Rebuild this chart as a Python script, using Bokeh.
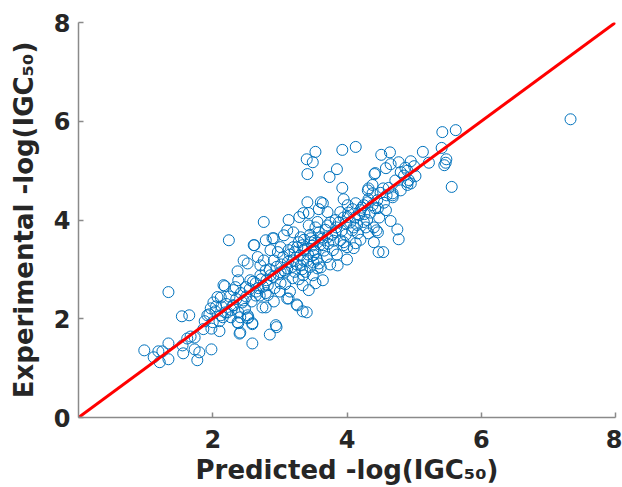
from bokeh.plotting import figure
from bokeh.models import FixedTicker, ColumnDataSource
from bokeh.embed import file_html
from bokeh.resources import INLINE

predicted = [
    0.98, 1.12, 1.19, 1.25, 1.21, 1.34, 1.34, 1.34, 1.55, 1.56, 1.54, 1.65, 1.62, 1.67, 1.73, 1.73,
    1.80, 1.77, 1.98, 1.86, 1.98, 2.10, 1.95, 2.04, 2.07, 2.18, 2.34, 2.41, 2.59, 2.40, 2.59, 2.53,
    2.38, 2.22, 2.15, 2.27, 2.13, 2.30, 2.44, 2.49, 2.64, 2.74, 2.70,
    2.85, 2.95, 2.52, 3.34, 3.25, 3.11, 2.91, 2.79, 2.37, 2.37, 2.52, 2.62, 2.24,
    2.76, 3.13, 3.29, 3.43, 3.56, 2.61, 2.79, 2.89, 2.97, 3.11, 3.13, 3.26, 3.34, 3.46, 3.50,
    2.46, 2.67, 2.71, 2.56, 2.38, 2.16, 2.31, 2.12, 2.01, 1.97, 1.92, 2.00, 2.19, 2.31, 2.52,
    2.59, 2.41, 2.94, 3.13, 3.26, 3.40, 3.43, 3.53, 3.34, 3.19, 3.01, 3.01, 2.82, 2.86, 2.71,
    2.79, 2.64, 2.46, 3.11, 3.31, 3.41, 3.53, 3.35, 3.56, 2.38, 2.12,
    3.41, 3.74, 3.85, 3.93, 4.41, 3.53, 3.40, 3.49, 3.93, 4.13,
    3.41, 3.35, 3.43, 3.64, 3.58, 3.71, 3.95, 4.01, 4.13, 4.20, 4.31, 4.38, 4.32, 4.46, 4.40,
    4.46, 3.98, 4.10, 4.25, 3.90, 3.83, 3.71, 3.53, 3.61, 3.46, 3.31, 3.20, 3.06, 2.91, 2.86,
    3.01, 3.20, 3.35, 3.50, 3.65, 3.79, 3.95, 4.13, 4.10, 3.61, 3.50, 3.35, 3.20, 3.86, 3.64,
    3.49, 3.06, 2.91, 2.79, 2.76, 4.40, 4.47, 3.83, 3.90, 4.01, 3.71,
    4.31, 4.38, 4.54, 4.59, 4.68, 4.65, 4.75, 4.77, 4.54, 3.61, 4.25, 4.32, 4.42, 4.44, 4.32,
    4.16, 4.08, 3.95, 4.00,
    4.42, 4.51, 4.64, 4.65, 4.58, 4.77, 4.87, 4.90, 5.02, 4.90, 4.95, 4.95, 5.22, 5.13, 5.41,
    5.42, 5.62, 5.48, 5.47, 5.45, 5.56, 7.33,
    5.00, 4.92, 4.90, 4.68, 4.68, 4.80,
    2.55, 2.60, 2.68, 2.72, 2.80, 2.85, 2.90, 2.95, 2.98, 3.02, 3.05, 3.08, 3.12, 3.15, 3.18,
    3.22, 3.25, 3.28, 3.30, 3.33, 3.36, 3.38, 3.42, 3.45, 3.48, 3.52, 3.55, 3.58, 3.60, 3.63,
    3.66, 3.68, 3.72, 3.75, 3.78, 3.80, 3.84, 3.88, 3.92, 3.95, 3.98, 4.02, 4.05, 4.08, 4.12,
    4.15, 4.18, 4.22, 4.26, 4.30, 4.35, 4.38, 4.45, 4.50, 4.55, 2.20, 2.25, 2.28, 2.35, 2.42,
    2.48, 2.50, 2.58, 2.65, 2.05, 2.10, 1.88, 2.75, 2.82, 2.92, 3.00, 3.08, 3.15, 3.22, 3.28,
    3.38, 3.45, 3.58, 3.70, 3.85, 3.75, 4.00, 4.20, 4.28, 4.48, 4.58, 4.62, 4.72, 4.80, 4.85,
]

experimental = [
    1.36, 1.22, 1.34, 1.34, 1.12, 1.50, 1.18, 2.54, 1.46, 1.30, 2.05, 2.07, 1.60, 1.64, 1.62, 1.38,
    1.32, 1.16, 1.38, 1.79, 1.80, 1.75, 2.09, 2.15, 2.44, 2.66, 2.64, 2.03, 1.89, 1.70, 1.50, 2.03,
    1.91, 2.13, 2.03, 2.03, 2.25, 2.27, 2.33, 2.64, 2.72, 2.23, 2.47,
    1.68, 1.83, 2.01, 2.15, 2.29, 2.41, 2.35, 2.23, 1.93, 2.96, 3.12, 3.49, 3.59,
    3.96, 4.00, 4.06, 3.89, 3.96, 3.49, 3.59, 3.63, 3.35, 3.79, 3.39, 3.45, 3.49, 3.63, 3.29,
    3.18, 3.25, 3.08, 2.78, 2.78, 2.68, 2.58, 2.43, 2.33, 2.21, 2.07, 1.93, 2.13, 2.27, 2.07,
    1.91, 1.72, 1.87, 2.41, 2.27, 2.13, 2.58, 2.72, 2.68, 2.82, 2.94, 2.72, 2.68, 2.88, 2.88,
    2.52, 2.47, 2.37, 3.02, 3.08, 3.18, 3.35, 2.88, 3.02, 2.13, 2.07,
    4.93, 4.87, 5.03, 4.65, 4.93, 5.38, 5.23, 5.17, 5.42, 5.48,
    4.36, 4.14, 4.14, 4.34, 4.22, 4.16, 4.42, 4.30, 4.34, 4.20, 4.36, 4.54, 4.64, 4.24, 3.85,
    3.75, 3.93, 3.85, 3.96, 3.59, 3.75, 3.89, 3.85, 3.65, 3.55, 3.65, 3.75, 3.69, 3.63, 3.39,
    3.45, 3.45, 3.39, 3.39, 3.49, 3.39, 3.49, 3.53, 3.43, 3.04, 3.14, 3.18, 3.18, 3.08, 2.78,
    2.88, 2.98, 3.18, 2.98, 3.18, 3.55, 3.35, 4.00, 4.16, 4.06, 3.65,
    4.60, 4.71, 4.64, 4.50, 4.50, 3.98, 3.81, 3.61, 3.35, 4.36, 4.30, 4.42, 4.24, 3.79, 3.73,
    3.73, 3.79, 3.55, 3.45,
    4.95, 5.32, 5.37, 5.13, 5.05, 5.17, 5.06, 5.00, 4.89, 4.77, 4.74, 5.19, 5.16, 5.38, 5.46,
    5.78, 5.82, 5.23, 5.16, 5.11, 4.67, 6.04,
    5.09, 4.81, 4.71, 4.54, 4.46, 4.97,
    2.60, 2.75, 2.62, 2.80, 2.78, 3.00, 2.85, 3.05, 2.90, 3.10, 3.25, 2.95, 3.15, 3.30, 3.05,
    3.35, 3.10, 3.55, 3.28, 3.00, 3.60, 3.42, 3.30, 3.70, 3.48, 3.58, 3.20, 3.75, 3.50, 3.62,
    3.38, 3.80, 3.52, 3.95, 3.70, 3.58, 3.85, 3.95, 3.78, 4.05, 3.70, 4.15, 3.95, 4.22, 4.05,
    3.90, 4.10, 4.25, 4.12, 4.00, 4.15, 4.30, 4.40, 4.55, 4.35, 2.30, 2.45, 2.18, 2.40, 2.52,
    2.20, 2.45, 2.35, 2.55, 2.25, 1.95, 1.95, 2.65, 2.48, 2.62, 2.55, 2.70, 2.55, 2.95, 2.80,
    2.95, 3.05, 3.12, 3.25, 3.30, 3.10, 3.20, 3.60, 3.85, 4.05, 4.20, 4.65, 4.80, 4.60, 4.90,
]

line_x = [0, 8]
line_y = [0, 8]
x_ticks = [2, 4, 6, 8]
y_ticks = [0, 2, 4, 6, 8]
x_title = "Predicted -log(IGC₅₀)"
y_title = "Experimental -log(IGC₅₀)"

FONT = "DejaVu Sans"
TXT = "#262626"
AX = "#8a8a8a"

W, H = 622, 487
L, R, T, B = 78, 7, 22, 70

p = figure(width=W, height=H, x_range=(0, 8), y_range=(0, 8),
           output_backend="svg", toolbar_location=None,
           min_border_left=L, min_border_right=R, min_border_top=T, min_border_bottom=B)
p.grid.visible = False
p.outline_line_color = None
p.background_fill_color = "white"
p.border_fill_color = "white"

src = ColumnDataSource(dict(x=predicted, y=experimental))
p.scatter("x", "y", source=src, marker="circle", size=11, fill_color=None,
          line_color="#0072BD", line_width=1)
p.line(line_x, line_y, line_color="#FF0000", line_width=3)

p.xaxis.ticker = FixedTicker(ticks=x_ticks)
p.yaxis.ticker = FixedTicker(ticks=y_ticks)
for ax in (p.xaxis[0], p.yaxis[0]):
    ax.axis_line_color = AX
    ax.axis_line_width = 1.5
    ax.major_tick_line_color = AX
    ax.major_tick_line_width = 1.5
    ax.major_tick_in = 5
    ax.major_tick_out = 0
    ax.minor_tick_line_color = None
    ax.major_label_text_font = FONT
    ax.major_label_text_font_style = "bold"
    ax.major_label_text_font_size = "24px"
    ax.major_label_text_color = TXT
    ax.axis_label_text_font = FONT
    ax.axis_label_text_font_style = "bold"
    ax.axis_label_text_font_size = "26px"
    ax.axis_label_text_color = TXT
p.xaxis.major_label_standoff = 12
p.yaxis.major_label_standoff = 8
p.xaxis.axis_label_standoff = 4
p.yaxis.axis_label_standoff = 12
p.xaxis.axis_label = x_title
p.yaxis.axis_label = y_title

open("out.html", "w").write(file_html(p, INLINE))
